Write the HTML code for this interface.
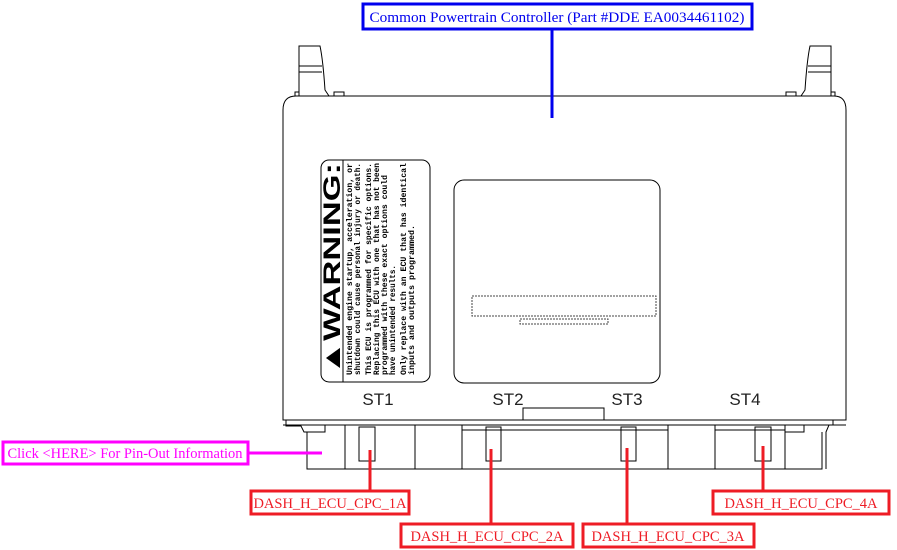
<!DOCTYPE html>
<html><head><style>body{margin:0;background:#fff}svg{display:block}</style></head><body>
<svg width="897" height="550" viewBox="0 0 897 550" xmlns="http://www.w3.org/2000/svg" font-family="Liberation Serif, serif">
<g fill="none" stroke="#000" stroke-width="1">
<path d="M299 96 V46 H320 Q323 60 325 90 L329 96"/>
<line x1="299" y1="66" x2="322" y2="66"/><line x1="299" y1="72" x2="322" y2="72"/>
<rect x="295" y="92" width="4" height="4"/><rect x="334" y="92" width="10" height="4"/>
<path d="M831 96 V46 H810 Q807 60 805 90 L801 96"/>
<line x1="808" y1="66" x2="831" y2="66"/><line x1="808" y1="72" x2="831" y2="72"/>
<rect x="831" y="92" width="4" height="4"/><rect x="786" y="92" width="10" height="4"/>
<path d="M283 420 V110 Q283 96 296 96 H834 Q846 96 846 110 V420 Z"/>
<rect x="321" y="160" width="109" height="222" rx="8"/>
<line x1="343" y1="160" x2="343" y2="382"/>
<rect x="454" y="180" width="206" height="203" rx="10"/>
<rect x="472" y="296" width="184" height="20" stroke-dasharray="2,1" stroke="#444"/>
<rect x="520" y="319" width="88" height="5" stroke-dasharray="2,1" stroke="#444"/>
<path d="M523 420 V408 H604 V420"/>
<path d="M286 420 V426 H301 L304 432 H325 V425 H345"/>
<line x1="283" y1="425" x2="846" y2="425"/>
<path d="M307 432 V469 H822 V432"/>
<line x1="345" y1="425" x2="345" y2="469"/>
<line x1="415" y1="425" x2="415" y2="469"/>
<line x1="462" y1="425" x2="462" y2="469"/>
<line x1="462" y1="430" x2="668" y2="430"/>
<line x1="668" y1="425" x2="668" y2="469"/>
<line x1="715" y1="425" x2="715" y2="469"/>
<line x1="715" y1="430" x2="785" y2="430"/>
<line x1="785" y1="425" x2="785" y2="469"/>
<path d="M785 432 H804 V425 H829 L826 432 V469"/>
<path d="M833 420 V425 H846"/>
<rect x="359" y="427" width="16" height="34"/>
<rect x="486" y="427" width="15" height="34"/>
<rect x="621" y="427" width="15" height="34"/>
<rect x="755" y="427" width="16" height="34"/>
</g>
<g font-family="Liberation Sans, sans-serif" font-size="17" fill="#222" text-anchor="middle">
<text x="378" y="405">ST1</text><text x="508" y="405">ST2</text><text x="627" y="405">ST3</text><text x="745" y="405">ST4</text>
</g>
<g transform="translate(340,375) rotate(-90)" font-family="Liberation Sans, sans-serif">
<text x="0" y="0" font-size="24" font-weight="bold" textLength="212" lengthAdjust="spacingAndGlyphs">▲WARNING:</text>
<g font-family="Liberation Mono, monospace" font-size="8.5" font-weight="bold" lengthAdjust="spacingAndGlyphs">
<text x="0" y="12" textLength="212" lengthAdjust="spacingAndGlyphs">Unintended engine startup, acceleration, or</text>
<text x="0" y="20" textLength="212" lengthAdjust="spacingAndGlyphs">shutdown could cause personal injury or death.</text>
<text x="0" y="31" textLength="212" lengthAdjust="spacingAndGlyphs">This ECU is programmed for specific options.</text>
<text x="0" y="39" textLength="212" lengthAdjust="spacingAndGlyphs">Replacing this ECU with one that has not been</text>
<text x="0" y="47" textLength="200" lengthAdjust="spacingAndGlyphs">programmed with these exact options could</text>
<text x="0" y="55" textLength="110" lengthAdjust="spacingAndGlyphs">have unintended results.</text>
<text x="0" y="66" textLength="212" lengthAdjust="spacingAndGlyphs">Only replace with an ECU that has identical</text>
<text x="0" y="74" textLength="150" lengthAdjust="spacingAndGlyphs">inputs and outputs programmed.</text>
</g></g>
<line x1="552" y1="29" x2="552" y2="118" stroke="#0000ee" stroke-width="3"/>
<rect x="363" y="4" width="389" height="25" fill="#fff" stroke="#0000ee" stroke-width="3"/>
<text x="557" y="22" font-size="15" fill="#0000ee" text-anchor="middle" textLength="375" lengthAdjust="spacingAndGlyphs">Common Powertrain Controller (Part #DDE EA0034461102)</text>
<line x1="248" y1="453" x2="322" y2="453" stroke="#ff00ff" stroke-width="3"/>
<rect x="3" y="442" width="245" height="22" fill="#fff" stroke="#ff00ff" stroke-width="3"/>
<text x="125" y="458" font-size="14.5" fill="#ff00ff" text-anchor="middle" textLength="235" lengthAdjust="spacingAndGlyphs">Click &lt;HERE&gt; For Pin-Out Information</text>
<g stroke="#ee1c25" stroke-width="3">
<line x1="370" y1="450" x2="370" y2="491"/><line x1="491" y1="449" x2="491" y2="524"/>
<line x1="627" y1="448" x2="627" y2="524"/><line x1="763" y1="446" x2="763" y2="491"/>
<g fill="#fff"><rect x="251" y="491" width="158" height="23"/><rect x="401" y="524" width="172" height="23"/>
<rect x="583" y="524" width="171" height="23"/><rect x="713" y="491" width="176" height="23"/></g>
</g>
<g font-size="14.5" fill="#ee1c25" text-anchor="middle">
<text x="330" y="508">DASH_H_ECU_CPC_1A</text><text x="487" y="541">DASH_H_ECU_CPC_2A</text>
<text x="668" y="541">DASH_H_ECU_CPC_3A</text><text x="801" y="508">DASH_H_ECU_CPC_4A</text>
</g>
</svg>
</body></html>
